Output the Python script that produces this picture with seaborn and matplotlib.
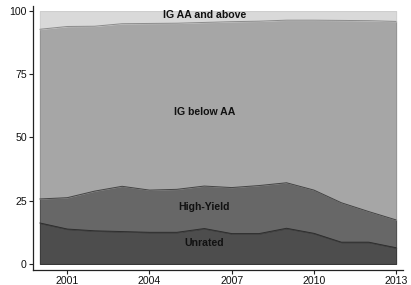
import matplotlib
matplotlib.use("Agg")
import matplotlib.pyplot as plt
import seaborn as sns
import numpy as np

years = [2000, 2001, 2002, 2003, 2004, 2005, 2006, 2007, 2008, 2009, 2010, 2011, 2012, 2013]
unrated = [16.2, 13.8, 13.1, 12.8, 12.5, 12.5, 14.0, 12.0, 12.0, 14.1, 12.1, 8.6, 8.6, 6.4]
high_yield_cum = [25.7, 26.2, 28.8, 30.7, 29.2, 29.5, 30.8, 30.2, 31.0, 32.1, 29.2, 24.2, 20.7, 17.4]
ig_below_cum = [92.8, 93.9, 94.0, 95.0, 95.1, 95.2, 95.5, 95.8, 96.0, 96.4, 96.4, 96.3, 96.2, 95.9]
total = [100] * len(years)

high_yield = list(np.array(high_yield_cum) - np.array(unrated))
ig_below = list(np.array(ig_below_cum) - np.array(high_yield_cum))
ig_aa = list(np.array(total) - np.array(ig_below_cum))

labels = ["Unrated", "High-Yield", "IG below AA", "IG AA and above"]
colors = ["#4d4d4d", "#676767", "#a6a6a6", "#d9d9d9"]
edge_colors = ["#2e2e2e", "#454545", "#8c8c8c", "#cccccc"]
label_x = [2006, 2006, 2006, 2006]
label_y = [8.3, 22.6, 60, 98.4]

sns.set_theme(style="ticks")
plt.rcParams['font.family'] = ['Liberation Sans', 'DejaVu Sans']

fig = plt.figure(figsize=(4.11, 2.85), dpi=100)
ax = fig.add_axes([33/411, 15/285, 370/411, 264/285])

polys = ax.stackplot(years, unrated, high_yield, ig_below, ig_aa, colors=colors, linewidth=0.7)
for p, ec in zip(polys, edge_colors):
    p.set_edgecolor(ec)

# boundary lines on top
sns.lineplot(x=years, y=ig_below_cum, ax=ax, color="#8c8c8c", linewidth=0.7)
sns.lineplot(x=years, y=high_yield_cum, ax=ax, color="#454545", linewidth=0.7)
sns.lineplot(x=years, y=unrated, ax=ax, color="#2e2e2e", linewidth=0.7)

for lab, lx, ly in zip(labels, label_x, label_y):
    ax.text(lx, ly, lab, ha="center", va="center", fontsize=7.6, fontweight="bold", color="#111111")

ax.set_xlim(1999.75, 2013.25)
ax.set_ylim(-2.4, 102)
ax.set_xticks([2001, 2004, 2007, 2010, 2013])
ax.set_yticks([0, 25, 50, 75, 100])
ax.tick_params(axis="both", labelsize=7.6, length=3, width=0.8, pad=1.5, color="#222222", labelcolor="#111111")
for s in ["left", "bottom"]:
    ax.spines[s].set_linewidth(0.9)
    ax.spines[s].set_color("#222222")
sns.despine(ax=ax)
ax.set_facecolor("white")

fig.savefig("out.png", dpi=100)
